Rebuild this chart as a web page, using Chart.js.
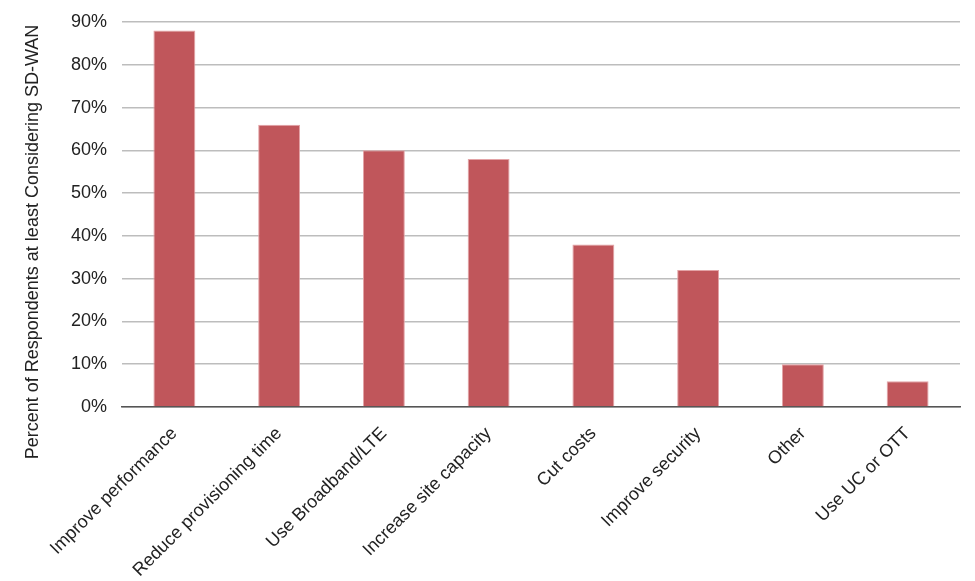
<!DOCTYPE html>
<html>
<head>
<meta charset="utf-8">
<script src="https://cdn.jsdelivr.net/npm/chart.js@4"></script>
<style>
  html, body { margin: 0; padding: 0; background: #fff; }
  #wrap { width: 975px; height: 581px; }
</style>
</head>
<body>
<div id="wrap"><canvas id="sdwanChart"></canvas></div>
<script>
// Data
const categories = ['Improve performance', 'Reduce provisioning time', 'Use Broadband/LTE',
    'Increase site capacity', 'Cut costs', 'Improve security', 'Other', 'Use UC or OTT'];
const percentValues = [88, 66, 60, 58, 38, 32, 10, 6];
const yTicks = [0, 10, 20, 30, 40, 50, 60, 70, 80, 90];
const yTitle = 'Percent of Respondents at least Considering SD-WAN';

const fontFamily = 'Liberation Sans, Arial, Helvetica, sans-serif';

// y axis title drawn by hand: in the original it sits a bit lower than the plot centre
const yTitlePlugin = {
    id: 'yTitlePlugin',
    afterDraw(chart) {
        const c = chart.ctx;
        c.save();
        c.translate(33, 242);
        c.rotate(-Math.PI / 2);
        c.font = '18px ' + fontFamily;
        c.fillStyle = '#222';
        c.textAlign = 'center';
        c.textBaseline = 'middle';
        c.fillText(yTitle, 0, 0);
        c.restore();
    }
};

const ctx = document.getElementById('sdwanChart').getContext('2d');
const sdwanChart = new Chart(ctx, {
    type: 'bar',
    data: {
        labels: categories,
        datasets: [{
            label: 'Respondents',
            data: percentValues,
            backgroundColor: '#c0565b',
            borderColor: '#e3a3a6',
            borderWidth: { top: 1, left: 1, right: 1, bottom: 0 },
            barPercentage: 0.8,
            categoryPercentage: 0.5
        }]
    },
    plugins: [yTitlePlugin],
    options: {
        responsive: true,
        maintainAspectRatio: false,
        animation: false,
        devicePixelRatio: 1,
        layout: { padding: { top: 22, right: 15, left: 0, bottom: 0 } },
        plugins: {
            legend: { display: false },
            tooltip: { enabled: false }
        },
        scales: {
            x: {
                afterFit: axis => { axis.height = 174; },
                grid: { display: false, drawTicks: false },
                border: { display: true, color: '#555', width: 1.5 },
                ticks: {
                    color: '#222',
                    font: { family: fontFamily, size: 18 },
                    maxRotation: 45,
                    minRotation: 45,
                    padding: 16
                }
            },
            y: {
                min: 0,
                max: 90,
                afterFit: axis => {
                    axis.width = 122;
                    axis.paddingTop = 0;
                    axis.paddingBottom = 0;
                },
                afterBuildTicks: function(axis) {
                    axis.ticks = yTicks.map(v => ({ value: v }));
                },
                grid: { color: '#bdbdbd', lineWidth: 1.5, drawTicks: false },
                border: { display: false },
                ticks: {
                    color: '#222',
                    font: { family: fontFamily, size: 18 },
                    padding: 15,
                    callback: v => v + '%'
                }
            }
        }
    }
});
</script>
</body>
</html>
